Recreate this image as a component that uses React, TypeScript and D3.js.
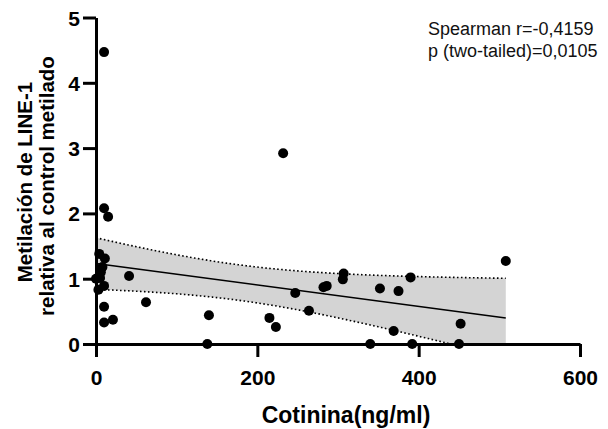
import React, { useRef, useEffect } from "react";
import * as d3 from "d3";

// cotinina (ng/ml) vs LINE-1 metilación relativa
const cotinina = [
  10, 10, 15, 4, 11, 8, 6, 5, 10, 3, 0, 41, 62, 10, 10, 21, 140, 138, 232, 215,
  223, 247, 264, 282, 286, 307, 306, 340, 352, 369, 375, 390, 392, 452, 450, 508, 6,
];
const metilacion = [
  4.47, 2.08, 1.95, 1.38, 1.31, 1.18, 1.15, 1.01, 0.89, 0.83, 1.0, 1.04, 0.64, 0.57,
  0.33, 0.37, 0.44, 0, 2.92, 0.4, 0.26, 0.78, 0.51, 0.87, 0.89, 1.08, 0.99, 0, 0.85,
  0.2, 0.81, 1.02, 0, 0.31, 0, 1.27, 1.1,
];
const xTicks = [0, 200, 400, 600];
const yTicks = [0, 1, 2, 3, 4, 5];
const statsLines = ["Spearman r=-0,4159", "p (two-tailed)=0,0105"];
const yTitle = ["Metilación de LINE-1", "relativa al control metilado"];

const FONT = "'Liberation Sans', Arial, sans-serif";

const App = () => {
  const ref = useRef<SVGSVGElement>(null);

  useEffect(() => {
    const svg = d3.select(ref.current);
    svg.selectAll("*").remove();

    const x = d3.scaleLinear().domain([0, 600]).range([96, 580]);
    const y = d3.scaleLinear().domain([0, 5]).range([344, 17.5]);

    // linear regression + 95% CI of the fit
    const n = cotinina.length;
    const mx = d3.mean(cotinina)!;
    const my = d3.mean(metilacion)!;
    let sxx = 0, sxy = 0;
    cotinina.forEach((v, i) => {
      sxx += (v - mx) ** 2;
      sxy += (v - mx) * (metilacion[i] - my);
    });
    const slope = sxy / sxx;
    const icpt = my - slope * mx;
    let sse = 0;
    cotinina.forEach((v, i) => {
      sse += (metilacion[i] - (icpt + slope * v)) ** 2;
    });
    const s = Math.sqrt(sse / (n - 2));
    const tCrit = 2.03;
    const [x0, x1] = d3.extent(cotinina) as [number, number];
    const xs = d3.range(x0, x1, 2).concat([x1]);
    const band = xs.map((v) => {
      const fit = icpt + slope * v;
      const hw = tCrit * s * Math.sqrt(1 / n + (v - mx) ** 2 / sxx);
      return { v, fit, lo: Math.max(0, fit - hw), hi: fit + hw };
    });

    svg
      .append("path")
      .datum(band)
      .attr("fill", "#d4d4d4")
      .attr(
        "d",
        d3
          .area<any>()
          .x((d) => x(d.v))
          .y0((d) => y(d.lo))
          .y1((d) => y(d.hi))
      );

    ["lo", "hi"].forEach((k) => {
      svg
        .append("path")
        .datum(band)
        .attr("fill", "none")
        .attr("stroke", "#000")
        .attr("stroke-width", 1.6)
        .attr("stroke-dasharray", "1.6,2.4")
        .attr(
          "d",
          d3
            .line<any>()
            .x((d) => x(d.v))
            .y((d) => y(d[k]))
        );
    });

    svg
      .append("line")
      .attr("x1", x(x0))
      .attr("x2", x(x1))
      .attr("y1", y(icpt + slope * x0))
      .attr("y2", y(icpt + slope * x1))
      .attr("stroke", "#000")
      .attr("stroke-width", 1.5);

    // axes
    const xAxis = svg
      .append("g")
      .attr("transform", `translate(0,${y(0)})`)
      .call(
        d3.axisBottom(x).tickValues(xTicks).tickFormat(d3.format("d")).tickSize(13).tickSizeOuter(0).tickPadding(13)
      );
    const yAxis = svg
      .append("g")
      .attr("transform", `translate(${x(0)},0)`)
      .call(
        d3.axisLeft(y).tickValues(yTicks).tickFormat(d3.format("d")).tickSize(13).tickSizeOuter(0).tickPadding(3)
      );

    [xAxis, yAxis].forEach((g) => {
      g.select(".domain").attr("stroke-width", 3);
      g.selectAll(".tick line").attr("stroke-width", 3);
      g.selectAll(".tick text")
        .attr("font-family", FONT)
        .attr("font-weight", "bold")
        .attr("font-size", 21)
        .attr("fill", "#000");
    });
    yAxis.selectAll(".tick text").attr("dy", "0.36em");

    // points
    svg
      .append("g")
      .selectAll("circle")
      .data(cotinina)
      .join("circle")
      .attr("cx", (d) => x(d))
      .attr("cy", (_, i) => y(metilacion[i]))
      .attr("r", 5)
      .attr("fill", "#000");

    // titles
    svg
      .append("text")
      .attr("x", 346)
      .attr("y", 423)
      .attr("text-anchor", "middle")
      .attr("font-family", FONT)
      .attr("font-weight", "bold")
      .attr("font-size", 23)
      .text("Cotinina(ng/ml)");

    yTitle.forEach((t, i) => {
      svg
        .append("text")
        .attr("transform", `translate(${32 + i * 22},${182 + i * 4}) rotate(-90)`)
        .attr("text-anchor", "middle")
        .attr("font-family", FONT)
        .attr("font-weight", "bold")
        .attr("font-size", 20.5)
        .text(t);
    });

    statsLines.forEach((t, i) => {
      svg
        .append("text")
        .attr("x", 428)
        .attr("y", 35 + i * 22)
        .attr("font-family", FONT)
        .attr("font-size", 18)
        .attr("fill", "#111")
        .text(t);
    });
  }, []);

  return (
    <svg
      ref={ref}
      width={608}
      height={429}
      style={{ position: "absolute", left: 0, top: 0, background: "#fff" }}
    ></svg>
  );
};

export default App;
